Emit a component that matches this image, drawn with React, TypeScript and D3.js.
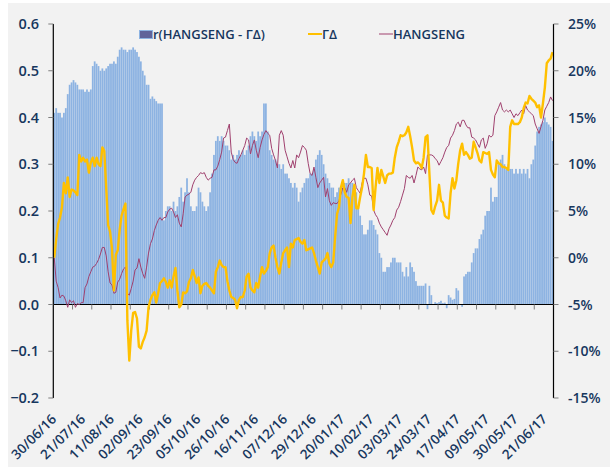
import React, { useRef, useEffect } from "react";
import * as d3 from "d3";

// r(HANGSENG - ΓΔ), left axis, one value per trading day
const barValues = [
  0.41, 0.42, 0.41, 0.41, 0.40, 0.41, 0.42, 0.45, 0.47, 0.475,
  0.48, 0.475, 0.47, 0.46, 0.46, 0.46, 0.455, 0.46, 0.455, 0.46,
  0.51, 0.52, 0.515, 0.51, 0.50, 0.505, 0.50, 0.505, 0.51, 0.515,
  0.515, 0.52, 0.515, 0.53, 0.545, 0.55, 0.545, 0.545, 0.54, 0.545,
  0.545, 0.55, 0.545, 0.54, 0.53, 0.52, 0.50, 0.49, 0.47, 0.47,
  0.44, 0.445, 0.44, 0.435, 0.43, 0.43, 0.43, 0.18, 0.20, 0.21,
  0.21, 0.20, 0.22, 0.20, 0.21, 0.23, 0.25, 0.22, 0.24, 0.27,
  0.24, 0.21, 0.20, 0.20, 0.21, 0.25, 0.24, 0.22, 0.21, 0.20,
  0.21, 0.24, 0.28, 0.32, 0.35, 0.36, 0.35, 0.36, 0.35, 0.34,
  0.34, 0.33, 0.31, 0.32, 0.31, 0.32, 0.33, 0.32, 0.33, 0.32,
  0.33, 0.34, 0.36, 0.37, 0.36, 0.35, 0.37, 0.36, 0.37, 0.43,
  0.43, 0.37, 0.33, 0.32, 0.31, 0.31, 0.30, 0.30, 0.29, 0.30,
  0.28, 0.28, 0.27, 0.26, 0.25, 0.26, 0.25, 0.22, 0.24, 0.25,
  0.26, 0.27, 0.27, 0.28, 0.28, 0.29, 0.31, 0.32, 0.33, 0.32,
  0.30, 0.28, 0.27, 0.26, 0.25, 0.25, 0.23, 0.24, 0.25, 0.24,
  0.25, 0.26, 0.26, 0.27, 0.26, 0.26, 0.25, 0.24, 0.21, 0.19,
  0.17, 0.15, 0.15, 0.16, 0.18, 0.18, 0.17, 0.16, 0.15, 0.11,
  0.10, 0.07, 0.07, 0.08, 0.08, 0.09, 0.10, 0.10, 0.09, 0.09,
  0.09, 0.07, 0.06, 0.08, 0.06, 0.09, 0.08, 0.07, 0.05, 0.04,
  0.04, 0.04, 0.04, 0.045, -0.01, 0.04, 0.02, 0.0, 0.005, 0.003,
  0.005, 0.008, 0.003, 0.004, -0.008, 0.02, 0.015, 0.01, 0.012, 0.035,
  0.03, 0.0, -0.005, 0.06, 0.065, 0.07, 0.07, 0.09, 0.11, 0.12,
  0.12, 0.14, 0.15, 0.16, 0.19, 0.20, 0.20, 0.25, 0.22, 0.23,
  0.23, 0.30, 0.31, 0.32, 0.30, 0.29, 0.30, 0.29, 0.29, 0.28,
  0.29, 0.28, 0.29, 0.28, 0.29, 0.28, 0.29, 0.27, 0.30, 0.31,
  0.34, 0.37, 0.38, 0.385, 0.39, 0.40, 0.39, 0.385, 0.38, 0.35,
];

// ΓΔ cumulative return, %, right axis
const gammaDelta = [
  0.0, 2.0, 3.6, 4.3, 5.4, 8.0, 6.9, 8.6, 6.5, 7.3,
  7.2, 7.0, 6.7, 11.0, 10.3, 10.7, 10.3, 10.5, 9.1, 10.2,
  10.7, 9.8, 10.7, 10.0, 9.8, 11.8, 11.4, 7.5, 3.5, 2.8,
  1.0, -3.5, 0.3, 0.8, 3.0, 4.5, 5.2, 5.8, -6.7, -11.0,
  -7.8, -5.9, -5.8, -6.5, -9.5, -9.7, -9.0, -8.5, -7.8, -5.3,
  -4.5, -4.0, -3.7, -4.8, -3.8, -2.7, -2.5, -2.2, -2.6, -3.2,
  -2.4, -3.2, -2.0, -1.1, -3.5, -5.3, -5.0, -3.7, -3.8, -3.6,
  -2.6, -2.2, -1.3, -2.0, -2.7, -2.1, -3.8, -3.0, -2.8, -2.7,
  -3.0, -3.2, -3.5, -3.8, -1.5, -1.0, -0.3, -0.8, -1.0, -1.0,
  -2.5, -3.5, -4.2, -4.3, -4.5, -5.4, -4.5, -4.2, -4.2, -3.5,
  -2.0, -1.7, -3.2, -3.5, -3.7, -2.7, -3.2, -2.0, -1.0, -1.7,
  -1.4, -1.0, 0.5, 1.1, 1.3, 0.0, -1.0, -1.7, -0.5, 0.5,
  0.8, 1.1, -1.0, 1.5, 1.1, 1.9, 2.0, 2.1, 1.7, 1.5,
  1.9, 0.8, 0.9, 1.0, 1.1, 0.5, -0.3, -1.0, -1.7, -0.5,
  -0.3, -0.1, 0.5, -0.6, -1.0, -0.5, 2.2, 4.7, 5.4, 7.5,
  8.3, 7.0, 6.5, 6.4, 3.7, 6.5, 7.8, 5.3, 5.3, 6.5,
  7.5, 9.0, 11.0, 9.7, 9.7, 9.6, 5.1, 7.5, 9.6, 8.0,
  9.4, 8.7, 8.0, 8.8, 9.0, 9.0, 9.1, 10.7, 11.8, 12.4,
  13.1, 13.0, 13.1, 13.4, 14.0, 13.0, 11.8, 10.4, 10.1, 10.2,
  10.0, 9.6, 10.7, 12.9, 13.1, 9.0, 5.1, 4.7, 5.5, 6.1,
  7.8, 6.1, 5.9, 4.5, 4.3, 4.2, 6.9, 8.5, 7.4, 8.3,
  10.1, 11.5, 12.2, 11.0, 11.3, 11.0, 10.6, 10.7, 12.4, 11.8,
  11.2, 10.4, 10.2, 11.3, 11.2, 11.1, 11.3, 9.4, 8.9, 8.6,
  10.4, 10.1, 10.0, 9.7, 9.7, 9.6, 9.4, 14.0, 14.7, 14.3,
  14.3, 14.3, 14.5, 15.0, 16.0, 16.6, 16.5, 17.3, 17.0, 16.8,
  16.6, 16.1, 16.3, 15.0, 16.5, 18.2, 20.8, 21.1, 21.3, 22.0,
];

// HANGSENG cumulative return, %, right axis
const hangSeng = [
  0.0, -2.5, -3.2, -4.3, -4.0, -4.1, -4.6, -5.3, -4.5, -4.8,
  -4.6, -5.3, -4.9, -5.0, -4.8, -4.8, -3.2, -2.8, -2.0, -1.5,
  -1.0, -0.9, -0.6, -0.2, 0.4, 1.1, 1.1, 0.2, -1.5, -2.7,
  -2.9, -3.8, -3.7, -2.6, -2.3, -1.7, -1.2, -1.0, -3.8, -4.0,
  -3.3, -2.5, -1.3, -1.1, -0.1, -1.0, -1.7, -2.2, -1.0, 0.5,
  1.5, 2.0, 2.9, 3.5, 4.0, 4.3, 4.0, 4.3, 4.3, 4.9,
  5.2, 5.3, 4.9, 4.3, 4.6, 3.7, 3.3, 4.7, 6.5, 6.7,
  6.8, 7.0, 7.8, 8.3, 8.6, 8.8, 9.1, 9.0, 9.1, 8.6,
  8.3, 8.5, 8.6, 9.4, 9.4, 9.8, 10.5, 11.3, 12.8, 12.9,
  13.6, 14.3, 11.3, 10.5, 10.2, 10.1, 10.6, 11.0, 11.5, 12.0,
  12.8, 12.6, 11.1, 12.0, 12.6, 11.5, 10.7, 11.8, 12.6, 13.2,
  13.6, 13.3, 13.1, 11.7, 11.0, 10.4, 9.6, 13.1, 13.6, 13.1,
  11.5, 10.8, 10.1, 9.6, 10.4, 9.6, 11.0, 10.7, 11.3, 12.0,
  11.8, 11.5, 10.1, 9.0, 8.8, 9.7, 8.6, 7.5, 8.0, 8.3,
  8.6, 6.5, 7.4, 6.1, 5.6, 5.9, 5.8, 5.8, 6.1, 6.8,
  7.5, 7.5, 7.0, 7.8, 8.0, 8.3, 8.5, 7.5, 7.2, 6.9,
  8.0, 8.5, 8.5, 7.8, 6.7, 6.6, 5.1, 4.6, 4.3, 3.7,
  3.3, 3.0, 2.7, 2.4, 3.1, 3.5, 4.0, 4.3, 5.1, 5.4,
  6.0, 6.7, 7.4, 8.8, 8.6, 8.5, 8.8, 8.0, 8.8, 9.7,
  9.5, 9.4, 9.7, 9.0, 11.0, 11.0, 11.0, 10.9, 10.6, 10.4,
  9.9, 10.3, 10.7, 11.3, 11.8, 12.0, 12.8, 13.1, 13.6, 14.3,
  14.5, 14.0, 14.7, 14.7, 14.2, 13.9, 13.9, 12.9, 12.8, 12.6,
  12.2, 11.8, 12.6, 12.8, 11.7, 12.2, 13.1, 12.9, 13.1, 15.2,
  15.6, 16.1, 16.6, 15.8, 15.6, 15.8, 15.6, 15.8, 15.4, 15.0,
  15.4, 15.2, 15.5, 15.8, 15.4, 16.3, 15.8, 15.6, 15.4, 15.2,
  14.3, 13.8, 13.3, 14.0, 14.7, 15.8, 16.2, 16.6, 17.2, 16.8,
];

// date label shown on every 15th trading day
const tickLabels = [
  "30/06/16", "21/07/16", "11/08/16", "02/09/16", "23/09/16", "05/10/16",
  "26/10/16", "16/11/16", "07/12/16", "29/12/16", "20/01/17", "10/02/17",
  "03/03/17", "24/03/17", "17/04/17", "09/05/17", "30/05/17", "21/06/17",
];

const leftTicks = [-0.2, -0.1, 0, 0.1, 0.2, 0.3, 0.4, 0.5, 0.6];
const rightTicks = [-15, -10, -5, 0, 5, 10, 15, 20, 25];

const FONT = "'Open Sans', 'Liberation Sans', Arial, sans-serif";
const TEXT = "#17375e";

const Chart = () => {
  const ref = useRef(null);

  useEffect(() => {
    const width = 610;
    const height = 467;
    const left = 53.3;
    const right = 553.5;
    const top = 24;
    const bottom = 398;
    const n = barValues.length;

    const svg = d3.select(ref.current);
    svg.selectAll("*").remove();

    svg.append("rect").attr("width", width).attr("height", height).attr("fill", "#ffffff");
    svg
      .append("rect")
      .attr("x", 8)
      .attr("y", 3)
      .attr("width", width - 8)
      .attr("height", height - 3)
      .attr("fill", "#f2f2f2");

    const x = d3
      .scaleBand()
      .domain(d3.range(n))
      .range([left, right])
      .paddingInner(0.08)
      .paddingOuter(0.04);
    const step = x.step();
    const edge = (i) => left + i * step;
    const cx = (i) => x(i) + x.bandwidth() / 2;

    const yL = d3.scaleLinear().domain([-0.2, 0.6]).range([bottom, top]);
    const yR = d3.scaleLinear().domain([-15, 25]).range([bottom, top]);

    // bars
    svg
      .append("g")
      .selectAll("rect")
      .data(barValues)
      .join("rect")
      .attr("x", (d, i) => x(i))
      .attr("width", x.bandwidth())
      .attr("y", (d) => yL(Math.max(0, d)))
      .attr("height", (d) => Math.abs(yL(d) - yL(0)))
      .attr("fill", "#8db3e2");

    // x axis line at zero with tick marks every 10 days
    svg
      .append("line")
      .attr("x1", left)
      .attr("x2", right)
      .attr("y1", yL(0))
      .attr("y2", yL(0))
      .attr("stroke", "#000")
      .attr("stroke-width", 1.2);
    svg
      .append("g")
      .selectAll("line")
      .data(d3.range(10, n + 1, 10))
      .join("line")
      .attr("x1", (i) => edge(i))
      .attr("x2", (i) => edge(i))
      .attr("y1", yL(0))
      .attr("y2", yL(0) + 5)
      .attr("stroke", "#7f7f7f");

    // lines
    const lineGen = d3
      .line()
      .x((d, i) => cx(i))
      .y((d) => yR(d));

    svg
      .append("path")
      .datum(hangSeng)
      .attr("d", lineGen)
      .attr("fill", "none")
      .attr("stroke", "#a0406e")
      .attr("stroke-width", 1);

    svg
      .append("path")
      .datum(gammaDelta)
      .attr("d", lineGen)
      .attr("fill", "none")
      .attr("stroke", "#ffc000")
      .attr("stroke-width", 2.4)
      .attr("stroke-linejoin", "round");

    // left axis
    svg
      .append("line")
      .attr("x1", left)
      .attr("x2", left)
      .attr("y1", top)
      .attr("y2", bottom)
      .attr("stroke", "#000")
      .attr("stroke-width", 1.2);
    const lt = svg.append("g").selectAll("g").data(leftTicks).join("g");
    lt.append("line")
      .attr("x1", left - 5)
      .attr("x2", left)
      .attr("y1", (d) => yL(d))
      .attr("y2", (d) => yL(d))
      .attr("stroke", "#7f7f7f");
    lt.append("text")
      .attr("x", 39)
      .attr("y", (d) => yL(d))
      .attr("dy", "0.36em")
      .attr("text-anchor", "end")
      .attr("font-family", FONT)
      .attr("font-size", 14.5)
      .attr("font-weight", 600)
      .attr("fill", TEXT)
      .text((d) => d3.format(".1f")(d));

    // right axis
    svg
      .append("line")
      .attr("x1", right)
      .attr("x2", right)
      .attr("y1", top)
      .attr("y2", bottom)
      .attr("stroke", "#000")
      .attr("stroke-width", 1.2);
    const rt = svg.append("g").selectAll("g").data(rightTicks).join("g");
    rt.append("line")
      .attr("x1", right)
      .attr("x2", right + 5)
      .attr("y1", (d) => yR(d))
      .attr("y2", (d) => yR(d))
      .attr("stroke", "#7f7f7f");
    rt.append("text")
      .attr("x", 568)
      .attr("y", (d) => yR(d))
      .attr("dy", "0.36em")
      .attr("font-family", FONT)
      .attr("font-size", 14)
      .attr("font-weight", 600)
      .attr("fill", TEXT)
      .text((d) => `${d}%`);

    // rotated date labels
    svg
      .append("g")
      .selectAll("text")
      .data(tickLabels)
      .join("text")
      .attr("transform", (d, k) => `translate(${cx(k * 15) + 3}, 420) rotate(-45)`)
      .attr("text-anchor", "end")
      .attr("font-family", FONT)
      .attr("font-size", 13.5)
      .attr("font-weight", 600)
      .attr("fill", TEXT)
      .text((d) => d);

    // legend
    const lg = svg
      .append("g")
      .attr("font-family", FONT)
      .attr("font-size", 13)
      .attr("font-weight", 600)
      .attr("fill", TEXT);
    lg.append("rect")
      .attr("x", 139.5)
      .attr("y", 30.5)
      .attr("width", 13)
      .attr("height", 8)
      .attr("fill", "#60639a")
      .attr("stroke", "#8db3e2");
    lg.append("text").attr("x", 153).attr("y", 39).text("r(HANGSENG - ΓΔ)");
    lg.append("line")
      .attr("x1", 308)
      .attr("x2", 322)
      .attr("y1", 34)
      .attr("y2", 34)
      .attr("stroke", "#ffc000")
      .attr("stroke-width", 2);
    lg.append("text").attr("x", 322).attr("y", 39).text("ΓΔ");
    lg.append("line")
      .attr("x1", 379)
      .attr("x2", 393)
      .attr("y1", 34)
      .attr("y2", 34)
      .attr("stroke", "#a0406e")
      .attr("stroke-width", 1);
    lg.append("text").attr("x", 393).attr("y", 39).text("HANGSENG");
  }, []);

  return (
    <svg
      ref={ref}
      width={610}
      height={467}
      style={{ position: "absolute", left: 0, top: 0, display: "block" }}
    ></svg>
  );
};

export default function App() {
  return <Chart />;
}
